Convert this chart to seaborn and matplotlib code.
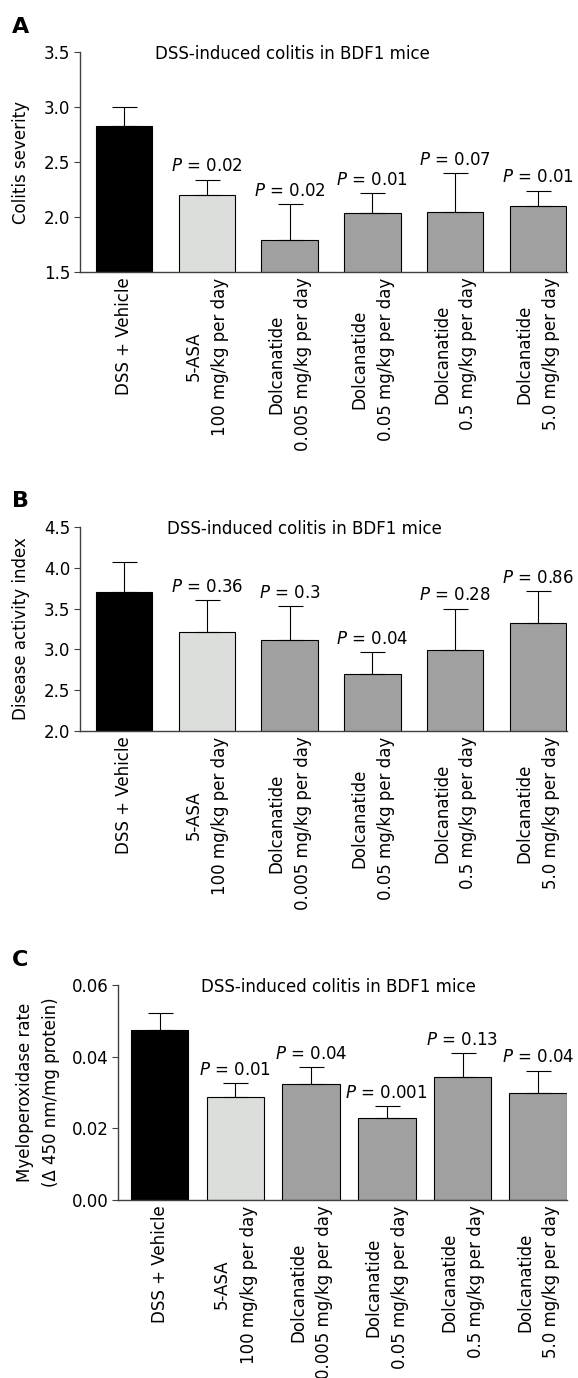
import pandas as pd
import matplotlib.pyplot as plt
import seaborn as sns

sns.set_style("white")
plt.rcParams['font.family'] = ['DejaVu Sans']
plt.rcParams['mathtext.fontset'] = 'dejavusans'
plt.rcParams['text.color'] = 'black'
plt.rcParams['axes.labelcolor'] = 'black'
plt.rcParams['xtick.color'] = 'black'
plt.rcParams['ytick.color'] = 'black'

# %% Data
groups = ["DSS + Vehicle", "5-ASA\n100 mg/kg per day",
          "Dolcanatide\n0.005 mg/kg per day", "Dolcanatide\n0.05 mg/kg per day",
          "Dolcanatide\n0.5 mg/kg per day", "Dolcanatide\n5.0 mg/kg per day"]
bar_colors = ["#000000", "#dcdedc", "#a0a0a0", "#a0a0a0", "#a0a0a0", "#a0a0a0"]

severity = [2.83, 2.20, 1.79, 2.04, 2.05, 2.10]
severity_err = [0.17, 0.14, 0.33, 0.18, 0.35, 0.14]
severity_p = [None, "0.02", "0.02", "0.01", "0.07", "0.01"]

dai = [3.70, 3.21, 3.12, 2.70, 2.99, 3.32]
dai_err = [0.37, 0.39, 0.41, 0.27, 0.51, 0.39]
dai_p = [None, "0.36", "0.3", "0.04", "0.28", "0.86"]

mpo = [0.0475, 0.0287, 0.0325, 0.0229, 0.0343, 0.0299]
mpo_err = [0.0047, 0.0040, 0.0046, 0.0032, 0.0066, 0.0062]
mpo_p = [None, "0.01", "0.04", "0.001", "0.13", "0.04"]

title = "DSS-induced colitis in BDF1 mice"
spine_col = "#404040"
fs = 12


def panel(ax, values, errs, pvals, ylim, yticks, fmt, ylabel, width, xlim, title_x, label_x):
    df = pd.DataFrame({"group": groups, "value": values})
    sns.barplot(data=df, x="group", y="value", hue="group", palette=bar_colors,
                width=width, edgecolor="black", linewidth=0.8, errorbar=None,
                legend=False, ax=ax)
    x = range(len(values))
    ax.errorbar(x, values, yerr=[[0] * len(errs), errs], fmt="none",
                ecolor="black", elinewidth=0.8, capsize=9, capthick=0.8, zorder=1)
    for xi, v, e, p in zip(x, values, errs, pvals):
        if p is None:
            continue
        ax.annotate(f"$P$ = {p}", (xi, v + e), xytext=(0, 3), textcoords="offset points",
                    ha="center", va="bottom", fontsize=fs)
    ax.set_ylim(*ylim)
    ax.set_xlim(*xlim)
    ax.set_yticks(yticks)
    ax.set_yticklabels([fmt.format(t) for t in yticks], fontsize=fs)
    ax.set_xticks(list(x))
    ax.set_xticklabels(groups, rotation=90, ha="center", va="top", fontsize=fs, linespacing=1.6)
    ax.set_xlabel("")
    ax.set_ylabel(ylabel, fontsize=fs, linespacing=1.6)
    ax.yaxis.set_label_coords(label_x, 0.5)
    ax.tick_params(axis="y", direction="out", length=4, width=0.8, color=spine_col, pad=3, left=True)
    ax.tick_params(axis="x", length=0, pad=4)
    sns.despine(ax=ax)
    for s in ["left", "bottom"]:
        ax.spines[s].set_color(spine_col)
        ax.spines[s].set_linewidth(1.0)
    ax.text(title_x, 0.99, title, transform=ax.transAxes, ha="center", va="center", fontsize=fs)


fig = plt.figure(figsize=(5.78, 13.78), dpi=100)
H = 1378
W = 578


def axes_px(left, right, top, bottom):
    return fig.add_axes([left / W, 1 - bottom / H, (right - left) / W, (bottom - top) / H])


ax_a = axes_px(80, 567, 52, 272)
panel(ax_a, severity, severity_err, severity_p, (1.5, 3.5), [1.5, 2.0, 2.5, 3.0, 3.5], "{:.1f}",
      "Colitis severity", 0.68, (-0.53, 5.35), 0.437, -0.102)

ax_b = axes_px(80, 567, 527, 731)
panel(ax_b, dai, dai_err, dai_p, (2.0, 4.5), [2.0, 2.5, 3.0, 3.5, 4.0, 4.5], "{:.1f}",
      "Disease activity index", 0.68, (-0.53, 5.35), 0.46, -0.102)

ax_c = axes_px(118, 567, 985, 1200)
panel(ax_c, mpo, mpo_err, mpo_p, (0.0, 0.06), [0.0, 0.02, 0.04, 0.06], "{:.2f}",
      "Myeloperoxidase rate\n(\u0394 450 nm/mg protein)", 0.76, (-0.55, 5.38), 0.49, -0.129)

for letter, y in [("A", 27), ("B", 501), ("C", 960)]:
    fig.text(12 / W, 1 - y / H, letter, fontsize=16, fontweight="bold", ha="left", va="center")

fig.savefig("out.png", dpi=100)
